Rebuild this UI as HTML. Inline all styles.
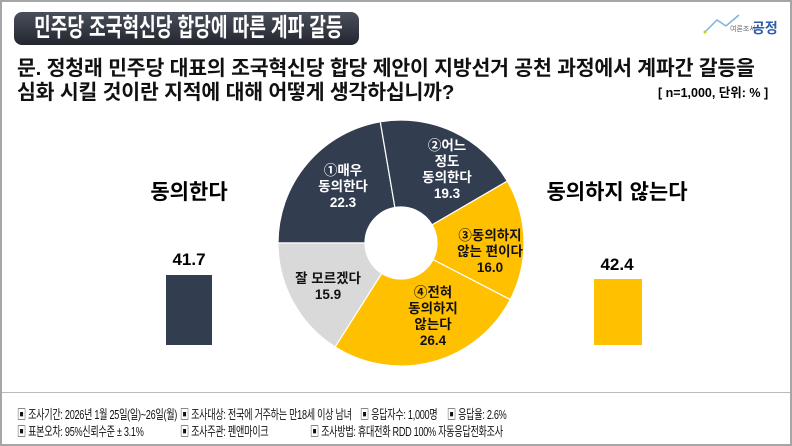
<!DOCTYPE html>
<html><head><meta charset="utf-8"><style>
body{margin:0;width:792px;height:446px;overflow:hidden;background:#fff;font-family:"Liberation Sans","Noto Sans CJK KR",sans-serif;}
.frame{position:absolute;left:0;top:0;width:788px;height:442px;border:2px solid #a6a6a6;}
.title{position:absolute;left:14px;top:12px;width:345px;height:33px;border-radius:8px;background:linear-gradient(#4a4f5c,#23262e);}
.title span{position:absolute;left:20px;top:0;color:#fff;font-size:25px;font-weight:bold;line-height:33px;white-space:nowrap;transform:scaleX(0.725);transform-origin:left center;}
.q{position:absolute;left:17px;font-size:20.5px;font-weight:bold;color:#111;white-space:nowrap;letter-spacing:-0.2px}
.abs{position:absolute;white-space:nowrap}
.foot{position:absolute;left:2px;top:392px;width:788px;height:50px;border-top:1px solid #bbb;}
.f{position:absolute;font-size:13px;color:#111;white-space:nowrap;letter-spacing:-0.4px;transform:scaleX(0.7);transform-origin:left center}
</style></head><body>
<div class="frame"></div>
<div class="title"><span>민주당 조국혁신당 합당에 따른 계파 갈등</span></div>
<div class="abs" style="left:700px;top:12px;width:80px;height:30px">
<svg width="80" height="30"><polyline points="5,20 17,8 26,14 39,3" fill="none" stroke="#7fb3d9" stroke-width="1.5"/><circle cx="5" cy="20" r="1.5" fill="#c8d400"/></svg>
<span class="abs" style="left:30px;top:12px;font-size:7px;color:#666">여론조사</span>
<span class="abs" style="left:52px;top:6px;font-size:14px;font-weight:bold;color:#2f5ca8">공정</span>
</div>
<div class="q" style="top:51px">문. 정청래 민주당 대표의 조국혁신당 합당 제안이 지방선거 공천 과정에서 계파간 갈등을</div>
<div class="q" style="top:75px">심화 시킬 것이란 지적에 대해 어떻게 생각하십니까?</div>
<div class="abs" style="left:658px;top:82px;font-size:12.5px;font-weight:bold">[ n=1,000, 단위: % ]</div>

<svg class="abs" style="left:0;top:0" width="792" height="446" font-family="Liberation Sans, Noto Sans CJK KR, sans-serif" font-weight="bold" font-size="13.5" text-anchor="middle">
<g stroke="#fff" stroke-width="1.2">
<path d="M278,243 A123,123 0 0 1 380.3,121.8 L394.9,207.5 A36,36 0 0 0 365,243 Z" fill="#333d50"/>
<path d="M380.3,121.8 A123,123 0 0 1 507.3,181.1 L432.1,224.9 A36,36 0 0 0 394.9,207.5 Z" fill="#333d50"/>
<path d="M507.3,181.1 A123,123 0 0 1 510.2,299.6 L433,259.6 A36,36 0 0 0 432.1,224.9 Z" fill="#ffc000"/>
<path d="M510.2,299.6 A123,123 0 0 1 335.1,346.9 L381.7,273.4 A36,36 0 0 0 433,259.6 Z" fill="#ffc000"/>
<path d="M335.1,346.9 A123,123 0 0 1 278,243 L365,243 A36,36 0 0 0 381.7,273.4 Z" fill="#d9d9d9"/>
</g>
<g fill="#fff">
<text x="343" y="175">①매우</text><text x="343" y="191">동의한다</text><text x="343" y="207">22.3</text>
<text x="447" y="150">②어느</text><text x="447" y="166">정도</text><text x="447" y="182">동의한다</text><text x="447" y="198">19.3</text>
</g>
<g fill="#111">
<text x="490" y="240">③동의하지</text><text x="490" y="256">않는 편이다</text><text x="490" y="272">16.0</text>
<text x="433" y="297">④전혀</text><text x="433" y="313">동의하지</text><text x="433" y="329">않는다</text><text x="433" y="345">26.4</text>
<text x="328" y="283">잘 모르겠다</text><text x="328" y="299">15.9</text>
</g>
<text x="189" y="199" font-size="21">동의한다</text>
<text x="617" y="199" font-size="21">동의하지 않는다</text>
<text x="189" y="265" font-size="17">41.7</text>
<text x="617" y="270" font-size="17">42.4</text>
<rect x="166" y="275" width="46" height="70" fill="#333d50"/>
<rect x="594" y="279" width="48" height="66" fill="#ffc000"/>
</svg>

<div class="foot"></div>
<div class="f" style="left:17px;top:404px">▣ 조사기간: 2026년 1월 25일(일)~26일(월)</div>
<div class="f" style="left:180px;top:404px">▣ 조사대상: 전국에 거주하는 만18세 이상 남녀</div>
<div class="f" style="left:360px;top:404px">▣ 응답자수: 1,000명</div>
<div class="f" style="left:447px;top:404px">▣ 응답율: 2.6%</div>
<div class="f" style="left:17px;top:421px">▣ 표본오차: 95%신뢰수준 ± 3.1%</div>
<div class="f" style="left:180px;top:421px">▣ 조사주관: 펜앤마이크</div>
<div class="f" style="left:310px;top:421px">▣ 조사방법: 휴대전화 RDD 100% 자동응답전화조사</div>
</body></html>
